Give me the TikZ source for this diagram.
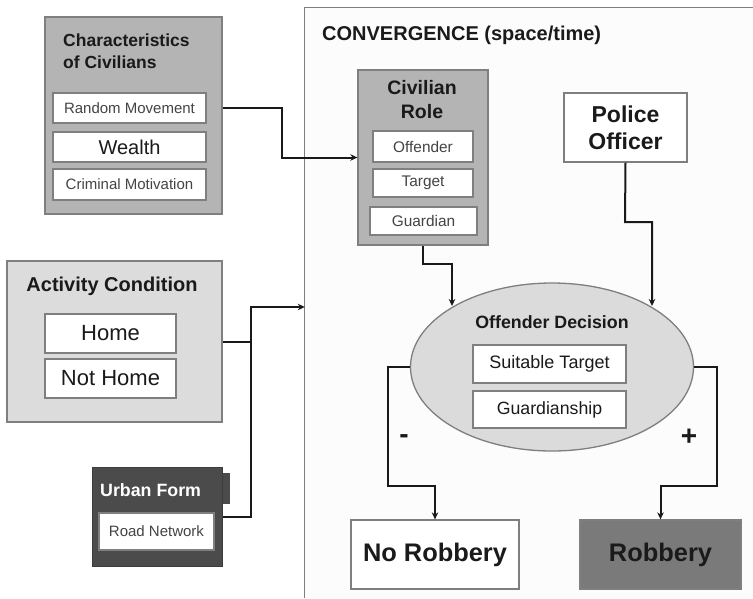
\documentclass[tikz,border=0pt]{standalone}
\usepackage{fontspec}
\setmainfont{Liberation Sans}
\usetikzlibrary{shapes.geometric,arrows.meta}
\definecolor{midgray}{HTML}{B4B4B4}
\definecolor{lightgray2}{HTML}{DCDCDC}
\definecolor{ellgray}{HTML}{DBDBDB}
\definecolor{darkbox}{HTML}{4B4B4B}
\definecolor{robgray}{HTML}{7A7A7A}
\definecolor{bordgray}{HTML}{7F7F7F}
\definecolor{convfill}{HTML}{FCFCFC}
\definecolor{txtdark}{HTML}{1A1A1A}
\definecolor{txtsoft}{HTML}{444444}
\tikzset{
  panel/.style={draw=bordgray, line width=1.3pt, rectangle, inner sep=0pt},
  inbox/.style={draw=bordgray, fill=white, line width=1.2pt, rectangle, inner sep=0pt, text=txtsoft},
  ttl/.style={font=\bfseries, text=txtdark, inner sep=0pt},
  conn/.style={draw=black!90, line width=2pt},
  arr/.style={conn, -{Stealth[length=7pt,width=6.5pt]}},
}
\begin{document}
\begin{tikzpicture}[x=1pt,y=-1pt]
\useasboundingbox (0,0) rectangle (753,598);
\fill[white] (0,0) rectangle (753,598);

% convergence region
\node[rectangle, fill=convfill, inner sep=0pt, minimum width=448, minimum height=590] (conv) at (529,303) {};
\draw[bordgray, line width=1.3pt] (conv.south west) -- (conv.north west) -- (conv.north east);
\node[ttl, font=\fontsize{20}{24}\selectfont\bfseries, anchor=west] (convt) at (322,35) {CONVERGENCE (space/time)};

% characteristics of civilians
\node[panel, fill=midgray, minimum width=177, minimum height=197] (char) at (133.5,115.5) {};
\node[ttl, font=\fontsize{17.5}{22}\selectfont\bfseries, align=left, anchor=west] (chart) at (63,51) {Characteristics\\of Civilians};
\node[inbox, minimum width=153, minimum height=30, font=\fontsize{15}{17}\selectfont] (rm) at (129.5,108) {Random Movement};
\node[inbox, minimum width=153, minimum height=30, font=\fontsize{20}{22}\selectfont, text=txtdark] (we) at (129.5,147) {Wealth};
\node[inbox, minimum width=153, minimum height=31, font=\fontsize{15}{17}\selectfont] (cm) at (129.5,184.5) {Criminal Motivation};

% civilian role
\node[panel, fill=midgray, minimum width=130, minimum height=175] (civ) at (423,157.5) {};
\node[ttl, font=\fontsize{19.5}{24}\selectfont\bfseries, align=center] (civt) at (422,100) {Civilian\\Role};
\node[inbox, minimum width=100, minimum height=31, font=\fontsize{15.4}{17}\selectfont] (off) at (423,146.5) {Offender};
\node[inbox, minimum width=100, minimum height=28, font=\fontsize{15.4}{17}\selectfont] (tar) at (423,183) {Target};
\node[inbox, minimum width=107, minimum height=28, font=\fontsize{15.4}{17}\selectfont] (gua) at (423.5,221) {Guardian};

% police officer
\node[panel, fill=white, minimum width=123, minimum height=69, font=\fontsize{23}{27}\selectfont\bfseries, text=txtdark, align=center] (pol) at (625.5,127.5) {Police\\Officer};

% offender decision
\node[ellipse, draw=bordgray, line width=1.3pt, fill=ellgray, minimum width=283, minimum height=168, inner sep=0pt] (dec) at (552,367) {};
\node[ttl, font=\fontsize{17.8}{20}\selectfont\bfseries] (dect) at (552,322) {Offender Decision};
\node[inbox, minimum width=153, minimum height=38, font=\fontsize{18}{20}\selectfont, text=txtdark] (sui) at (549.5,364) {Suitable Target};
\node[inbox, minimum width=153, minimum height=37, font=\fontsize{17.7}{20}\selectfont, text=txtdark] (gship) at (549.5,409.5) {Guardianship};

% outcomes
\node[panel, fill=white, minimum width=168, minimum height=69, font=\fontsize{25.4}{28}\selectfont\bfseries, text=txtdark] (nor) at (435,554.5) {No Robbery};
\node[panel, fill=robgray, minimum width=161, minimum height=69, font=\fontsize{25.4}{28}\selectfont\bfseries, text=txtdark] (rob) at (660.5,554.5) {Robbery};

% activity condition
\node[panel, fill=lightgray2, minimum width=215, minimum height=161] (act) at (114.5,341.5) {};
\node[ttl, font=\fontsize{20}{23}\selectfont\bfseries] (actt) at (112,286) {Activity Condition};
\node[inbox, minimum width=131, minimum height=39, font=\fontsize{22}{24}\selectfont, text=txtdark] (home) at (110.5,333.5) {Home};
\node[inbox, minimum width=131, minimum height=39, font=\fontsize{22}{24}\selectfont, text=txtdark] (nhome) at (110.5,378.5) {Not Home};

% urban form
\fill[darkbox] (222,473) rectangle (230,504);
\node[rectangle, fill=darkbox, draw=darkbox!80!black, line width=1pt, inner sep=0pt, minimum width=130, minimum height=99] (urb) at (157,516.5) {};
\node[ttl, text=white, font=\fontsize{17.8}{20}\selectfont\bfseries, anchor=west] (urbt) at (100,490) {Urban Form};
\node[inbox, minimum width=115, minimum height=37, font=\fontsize{15}{17}\selectfont] (road) at (156.5,531.5) {Road Network};

% connectors
\coordinate (j1) at (282,108);
\draw[arr] (char.east |- rm) -- (j1) |- (civ.west);

\coordinate (decA) at (452,306);
\coordinate (decB) at (652,306);
\draw[arr] (civ.south) -- ++(0,18) -| (decA);
\draw[arr] (pol.south) -- (625,222) -| (decB);

\coordinate (jn) at (251,307);
\draw[conn] (urb.east) -| (jn);
\draw[conn] (act.east) -- (act.east -| jn);
\draw[arr] ([xshift=-1pt]jn) -- (conv.west |- jn);

\draw[arr] (dec.west) -- (388,367) -- (388,486) -| (nor.north);
\draw[arr] (dec.east) -- (717,367) -- (717,486) -| (rob.north);

\node[ttl, font=\fontsize{28}{30}\selectfont\bfseries] (minus) at (404,439) {-};
\node[ttl, font=\fontsize{28}{30}\selectfont\bfseries] (plus) at (689,437) {+};
\end{tikzpicture}
\end{document}
